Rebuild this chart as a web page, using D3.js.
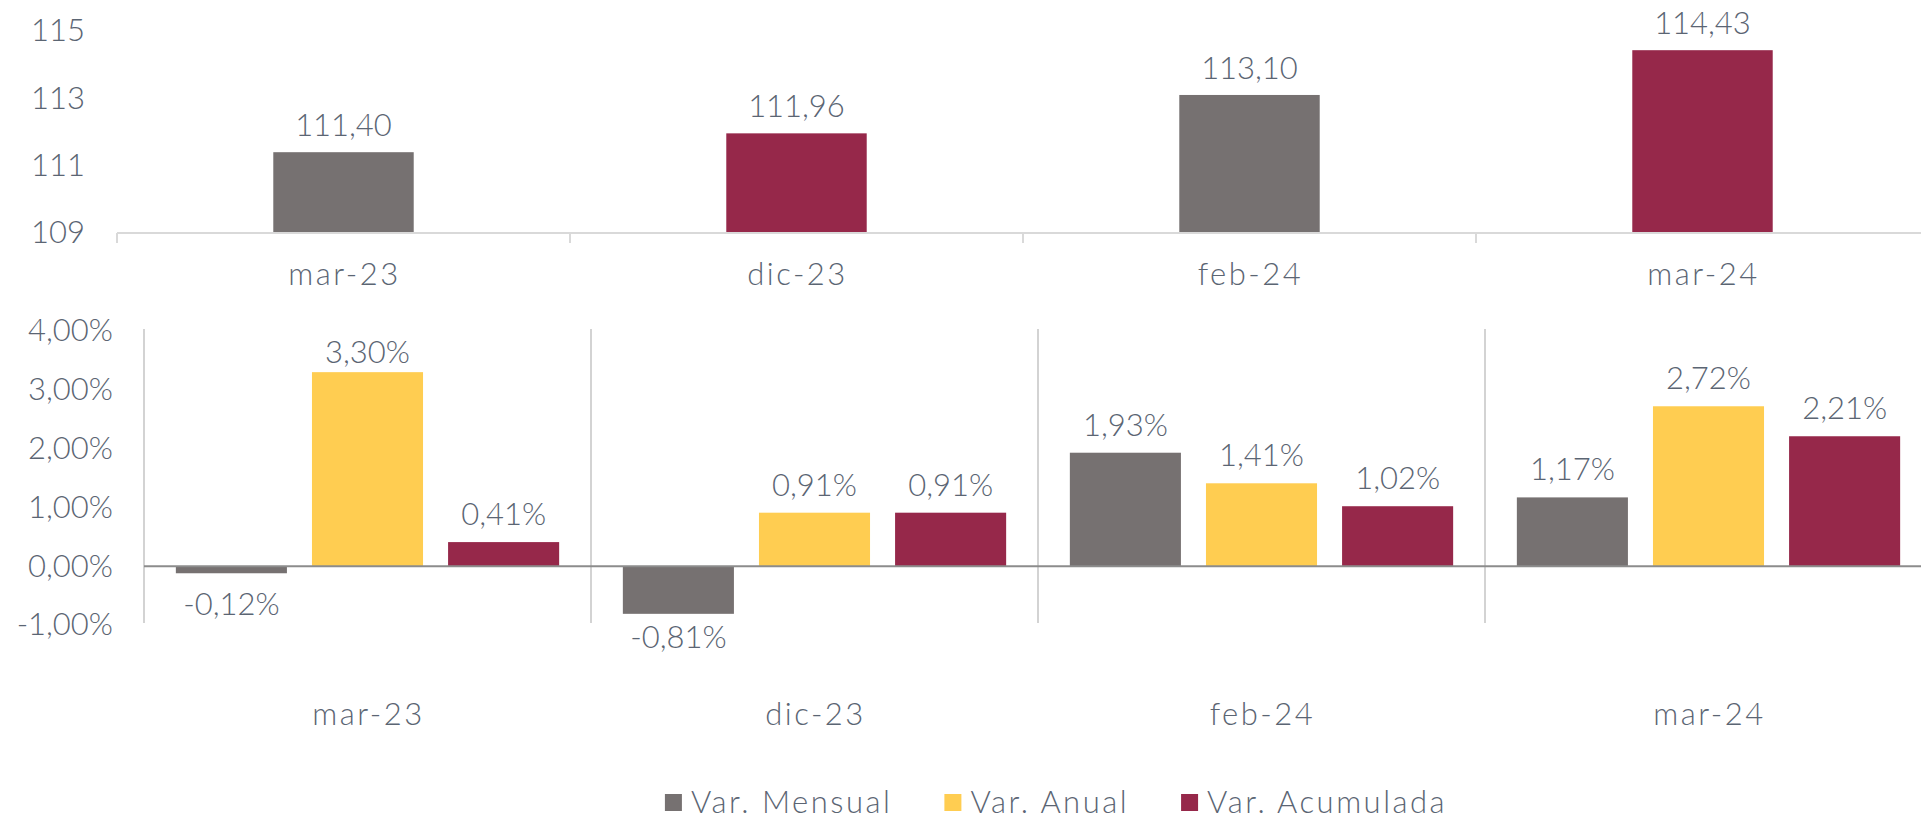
<!DOCTYPE html>
<html><head><meta charset="utf-8">
<script src="https://cdn.jsdelivr.net/npm/d3@7"></script>
<style>
body{margin:0;background:#fff}
svg{display:block}
text{font-family:Lato,"Open Sans",sans-serif;font-weight:300;fill:#5B6573}
text.cat, text.leg{letter-spacing:2.5px}
</style>
</head><body>
<svg id="chart" width="1921" height="819"></svg>
<script>
// ---------- DATA ----------
const categories = ["mar-23", "dic-23", "feb-24", "mar-24"];
const indexValues = [111.40, 111.96, 113.10, 114.43];
const seriesNames = ["Var. Mensual", "Var. Anual", "Var. Acumulada"];
const varMensual = [-0.12, -0.81, 1.93, 1.17];
const varAnual = [3.30, 0.91, 1.41, 2.72];
const varAcumulada = [0.41, 0.91, 1.02, 2.21];
const topTicks = [109, 111, 113, 115];
const bottomTicks = [-1, 0, 1, 2, 3, 4];

// ---------- STYLE ----------
const GREY = "#767171", YELLOW = "#FFCD51", MAROON = "#96284A";
const topBarColors = [GREY, MAROON, GREY, MAROON];
const seriesColors = [GREY, YELLOW, MAROON];
const FS = 31;

const loc = d3.formatLocale({decimal: ",", thousands: ".", grouping: [3], currency: ["", "€"], minus: "-"});
const f2 = loc.format(".2f");
const fPct = v => f2(v) + "%";

const svg = d3.select("#chart");

// ---------- TOP CHART ----------
const tLeft = 117, tRight = 1929;
const xTopCat = d3.scaleBand().domain(categories).range([tLeft, tRight]);
const xTop = d3.scaleBand().domain(categories).range([tLeft, tRight]).paddingInner(0.69).paddingOuter(0.345);
const yTop = d3.scaleLinear().domain([109, 115]).range([233, 31]);

const gTop = svg.append("g");
gTop.selectAll("rect.bar").data(indexValues).join("rect")
  .attr("class", "bar")
  .attr("x", (d, i) => xTop(categories[i]))
  .attr("width", xTop.bandwidth())
  .attr("y", d => yTop(d))
  .attr("height", d => yTop(109) - yTop(d))
  .attr("fill", (d, i) => topBarColors[i]);

gTop.append("line").attr("x1", tLeft).attr("x2", tRight)
  .attr("y1", yTop(109)).attr("y2", yTop(109))
  .attr("stroke", "#D9D9D9").attr("stroke-width", 2);
const bounds = categories.map(c => xTopCat(c)).concat([tRight]);
gTop.selectAll("line.tk").data(bounds).join("line").attr("class", "tk")
  .attr("x1", d => d).attr("x2", d => d)
  .attr("y1", yTop(109)).attr("y2", yTop(109) + 10)
  .attr("stroke", "#D9D9D9").attr("stroke-width", 2);

const yAxT = gTop.append("g").attr("transform", `translate(${tLeft},0)`)
  .call(d3.axisLeft(yTop).tickValues(topTicks).tickSize(0).tickPadding(32).tickFormat(d3.format("d")));
yAxT.select(".domain").remove();
yAxT.attr("font-family", null).attr("font-size", null);
yAxT.selectAll("text").style("font-size", FS + "px").attr("fill", null);

gTop.selectAll("text.val").data(indexValues).join("text").attr("class", "val")
  .attr("x", (d, i) => xTop(categories[i]) + xTop.bandwidth() / 2)
  .attr("y", d => Math.max(yTop(d) - 16, 32))
  .attr("text-anchor", "middle").style("font-size", FS + "px")
  .text(d => f2(d));

gTop.selectAll("text.cat").data(categories).join("text").attr("class", "cat")
  .attr("x", d => xTopCat(d) + xTopCat.bandwidth() / 2 + 1)
  .attr("y", 285)
  .attr("text-anchor", "middle").style("font-size", FS + "px")
  .text(d => d);

// ---------- BOTTOM CHART ----------
const bLeft = 144, bRight = 1932;
const xB = d3.scaleBand().domain(categories).range([bLeft, bRight]);
const xInner = d3.scaleBand().domain(seriesNames).range([0, xB.bandwidth()]).paddingInner(0.184).paddingOuter(0.234);
const yB = d3.scaleLinear().domain([-1, 4]).range([625, 331]);
const seriesValues = [varMensual, varAnual, varAcumulada];

const gBot = svg.append("g");
const sepX = categories.map(c => xB(c));
gBot.selectAll("line.sep").data(sepX).join("line").attr("class", "sep")
  .attr("x1", d => d).attr("x2", d => d)
  .attr("y1", yB(4) - 2).attr("y2", yB(-1) - 2)
  .attr("stroke", "#C4C4C4").attr("stroke-width", 1.5);

const flat = [];
seriesValues.forEach((arr, s) => arr.forEach((v, i) => flat.push({s, i, v})));

gBot.selectAll("rect.bar").data(flat).join("rect").attr("class", "bar")
  .attr("x", d => xB(categories[d.i]) + xInner(seriesNames[d.s]))
  .attr("width", xInner.bandwidth())
  .attr("y", d => yB(Math.max(0, d.v)))
  .attr("height", d => Math.abs(yB(d.v) - yB(0)))
  .attr("fill", d => seriesColors[d.s]);

gBot.append("line").attr("x1", bLeft).attr("x2", bRight)
  .attr("y1", yB(0)).attr("y2", yB(0))
  .attr("stroke", "#8C8C8C").attr("stroke-width", 2);

const yAxB = gBot.append("g").attr("transform", `translate(${bLeft},0)`)
  .call(d3.axisLeft(yB).tickValues(bottomTicks).tickSize(0).tickPadding(31).tickFormat(fPct));
yAxB.select(".domain").remove();
yAxB.attr("font-family", null).attr("font-size", null);
yAxB.selectAll("text").style("font-size", FS + "px").attr("fill", null);

gBot.selectAll("text.val").data(flat).join("text").attr("class", "val")
  .attr("x", d => xB(categories[d.i]) + xInner(seriesNames[d.s]) + xInner.bandwidth() / 2)
  .attr("y", d => d.v >= 0 ? Math.max(yB(d.v) - 17, yB(4) + 32) : Math.min(yB(d.v) + 42, yB(-1) + 23))
  .attr("text-anchor", "middle").style("font-size", FS + "px")
  .text(d => fPct(d.v));

gBot.selectAll("text.cat").data(categories).join("text").attr("class", "cat")
  .attr("x", d => xB(d) + xB.bandwidth() / 2 + 1)
  .attr("y", 725)
  .attr("text-anchor", "middle").style("font-size", FS + "px")
  .text(d => d);

// ---------- LEGEND ----------
const leg = svg.append("g");
const items = leg.selectAll("g").data(seriesNames).join("g");
items.append("rect").attr("width", 17).attr("height", 17).attr("y", 794)
  .attr("fill", (d, i) => seriesColors[i]);
items.append("text").attr("class", "leg").attr("x", 26).attr("y", 813).style("font-size", FS + "px").text(d => d);
let cx = 0; const pos = [];
items.each(function () {
  const w = this.querySelector("text").getComputedTextLength() + 26;
  pos.push(cx); cx += w + 52;
});
const totalW = cx - 52;
const startX = 1056 - totalW / 2;
items.attr("transform", (d, i) => `translate(${startX + pos[i]},0)`);
</script>
</body></html>
